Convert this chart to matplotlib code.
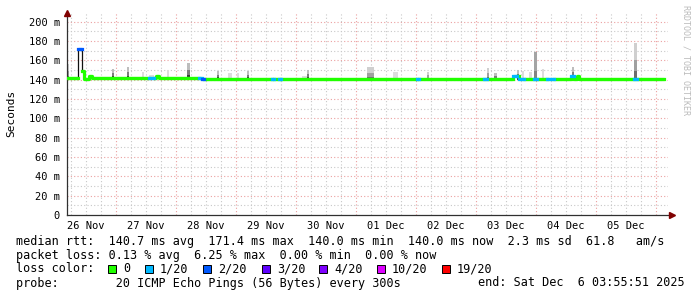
import numpy as np
import matplotlib
matplotlib.use('Agg')
import matplotlib.pyplot as plt

plt.rcParams['font.family'] = ['DejaVu Sans Mono']

# x in days since 26 Nov 00:00
day_labels = ['26 Nov', '27 Nov', '28 Nov', '29 Nov', '30 Nov',
              '01 Dec', '02 Dec', '03 Dec', '04 Dec', '05 Dec']
y_ticks = [0, 20, 40, 60, 80, 100, 120, 140, 160, 180, 200]

# median rtt (ms) as steps: start time, value, loss level
med_t = [0.183, 0.367, 0.428, 0.467, 0.55, 0.595, 1.55, 1.633, 1.667, 1.712,
         2.383, 2.428, 2.467, 3.6, 3.633, 3.717, 3.75, 6.017, 6.05, 7.133,
         7.183, 7.617, 7.683, 7.717, 7.8, 7.967, 8.017, 8.183, 8.3, 8.583,
         8.638, 8.678, 8.717, 9.633, 9.683]
med_v = [141.6, 171.8, 148.6, 140.8, 143.8, 141.6, 141.3, 141.6, 144.0, 141.6,
         141.6, 141.0, 140.2, 140.2, 140.2, 140.2, 140.2, 140.2, 140.2, 140.2,
         140.2, 144.3, 144.3, 140.2, 140.2, 140.2, 140.2, 140.2, 140.2, 143.5,
         140.2, 143.5, 140.2, 140.2, 140.2]
med_loss = [0, 2, 0, 0, 0, 0, 1, 0, 0, 0,
            1, 2, 0, 1, 0, 1, 0, 1, 0, 1,
            0, 1, 0, 1, 0, 1, 0, 1, 0, 1,
            0, 0, 0, 1, 0]
med_end = 10.133

# smoke bars: start, end, top value, tone
smoke_t0 = [0.183, 0.933, 1.183, 1.433, 1.55, 1.85, 2.183, 2.683, 2.867, 3.017,
            3.183, 4.1, 4.183, 5.183, 5.617, 6.183, 7.183, 7.3, 7.683, 7.767,
            7.883, 7.967, 8.1, 8.6, 9.633]
smoke_t1 = [0.217, 0.967, 1.217, 1.467, 1.633, 1.883, 2.233, 2.717, 2.933, 3.05,
            3.217, 4.183, 4.217, 5.3, 5.7, 6.217, 7.217, 7.35, 7.717, 7.8,
            7.933, 8.017, 8.133, 8.633, 9.683]
smoke_top = [156.5, 151.5, 153, 147.7, 145, 150.5, 157.5, 148.8, 147, 147,
             148.5, 144, 150, 153, 147.5, 148, 152, 147, 150.5, 149.5,
             147.5, 168.5, 151, 153, 177.5]
smoke_tone = [1, 2, 2, 0, 0, 0, 2, 2, 0, 0,
              2, 0, 2, 1, 0, 1, 1, 2, 2, 0,
              0, 3, 0, 2, 1]

loss_names = ['0', '1/20', '2/20', '3/20', '4/20', '10/20', '19/20']
loss_colors = ['#20ff00', '#00b8ff', '#0059ff', '#5e00ff', '#7e00ff', '#dd00ff', '#ff0000']

tone_layers = {
    0: [('#dcdcdc', 1.0)],
    1: [('#cfcfcf', 1.0), ('#a0a0a0', 0.55), ('#6c6c6c', 0.25)],
    2: [('#bdbdbd', 1.0), ('#7c7c7c', 0.6), ('#3c3c3c', 0.3)],
    3: [('#a4a4a4', 1.0), ('#828282', 0.3)],
}

W, H = 697, 297
fig = plt.figure(figsize=(W / 100, H / 100), dpi=100)
ax = fig.add_axes([67 / W, 1 - 215 / H, (668 - 67) / W, (215 - 13) / H])
ax.set_xlim(0.183, 10.2)
ax.set_ylim(0, 209)

# grid
dot = (0, (1, 2))
for v in range(10, 210, 10):
    c = '#eba0a0' if v % 20 == 0 else '#c8c8c8'
    ax.axhline(v, color=c, lw=0.8, ls=dot, zorder=1)
for k in range(0, 42):
    d = k * 0.25
    if d < 0.183 or d > 10.2:
        continue
    c = '#eba0a0' if k % 4 == 0 else '#c8c8c8'
    ax.axvline(d, color=c, lw=0.8, ls=dot, zorder=1)

# smoke
base = 140.0
for t0, t1, top, tone in zip(smoke_t0, smoke_t1, smoke_top, smoke_tone):
    for col, frac in tone_layers[tone]:
        ax.bar(t0, (top - base) * frac, width=t1 - t0, bottom=base, align='edge',
               color=col, lw=0, zorder=2)

# median line
t_ext = np.array(med_t + [med_end])
v_ext = np.array(med_v + [med_v[-1]])
loss_ext = np.array(med_loss + [med_loss[-1]])
ax.step(t_ext, v_ext, where='post', color='#101010', lw=0.9, zorder=3)
for lvl in sorted(set(med_loss)):
    vv = np.where(loss_ext == lvl, v_ext, np.nan)
    # keep the end of a segment so the step draws its full width
    for i in range(len(vv) - 1):
        if loss_ext[i] == lvl:
            ax.plot([t_ext[i], t_ext[i + 1]], [v_ext[i], v_ext[i]],
                    color=loss_colors[lvl], lw=2.3, solid_capstyle='butt', zorder=4)
    ax.step(t_ext, vv, where='post', color=loss_colors[lvl], lw=2.3, zorder=4)

# axes
for s in ['top', 'right']:
    ax.spines[s].set_visible(False)
for s in ['left', 'bottom']:
    ax.spines[s].set_color('#303030')
    ax.spines[s].set_linewidth(0.9)
ax.set_yticks(y_ticks)
ax.set_yticklabels([('%d m' % v) if v else '0' for v in y_ticks])
ax.set_xticks([i + 0.5 for i in range(len(day_labels))])
ax.set_xticklabels(day_labels)
ax.tick_params(axis='both', length=0, labelsize=7.5, colors='#000000')
ax.tick_params(axis='y', pad=5)
ax.tick_params(axis='x', pad=4)
ax.plot([0], [1.0], marker='^', color='#800000', ms=4, transform=ax.transAxes,
        clip_on=False, zorder=6)
ax.plot([1.007], [0], marker='>', color='#800000', ms=4, transform=ax.transAxes,
        clip_on=False, zorder=6)

fig.text(11 / W, 1 - 113 / H, 'Seconds', rotation=90, ha='center', va='center', fontsize=8)
fig.text(686 / W, 1 - 5 / H, 'RRDTOOL / TOBI OETIKER', rotation=270, ha='center', va='top',
         fontsize=6, color='#bbbbbb')

# legend text
fs = 8.5
fig.text(16 / W, 1 - 241 / H,
         'median rtt:  140.7 ms avg  171.4 ms max  140.0 ms min  140.0 ms now  2.3 ms sd  61.8   am/s',
         fontsize=fs, va='center')
fig.text(16 / W, 1 - 255 / H, 'packet loss: 0.13 % avg  6.25 % max  0.00 % min  0.00 % now',
         fontsize=fs, va='center')
fig.text(16 / W, 1 - 269 / H, 'loss color:', fontsize=fs, va='center')
sq_x = [108, 145, 203, 262, 319, 377, 442]
for x, name, col in zip(sq_x, loss_names, loss_colors):
    fig.add_artist(plt.Rectangle((x / W, 1 - 272.5 / H), 8 / W, 8 / H, facecolor=col,
                                 edgecolor='black', lw=0.7))
    fig.text((x + 15) / W, 1 - 269 / H, name, fontsize=fs, va='center')
fig.text(16 / W, 1 - 283 / H, 'probe:        20 ICMP Echo Pings (56 Bytes) every 300s',
         fontsize=fs, va='center')
fig.text(478 / W, 1 - 283 / H, 'end: Sat Dec  6 03:55:51 2025', fontsize=fs, va='center')

fig.savefig('out.png', dpi=100)
